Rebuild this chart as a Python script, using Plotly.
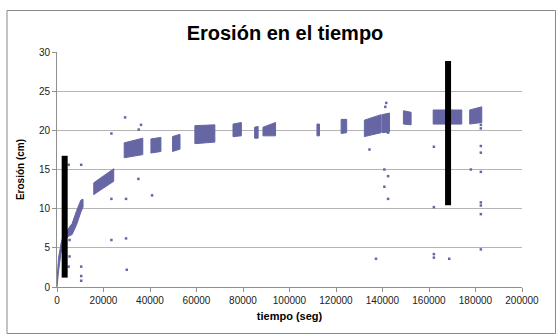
import plotly.graph_objects as go

# ---- data ----
# early rising band (0 - 11200 s)
band_x = [0, 300, 700, 1700, 2500, 4500, 6500, 8500, 10300, 11200]
band_hi = [1.0, 3.0, 3.8, 5.5, 6.4, 7.3, 8.1, 9.8, 11.1, 11.2]
band_lo = [0.0, 0.8, 2.1, 4.3, 5.4, 6.4, 6.7, 8.0, 9.6, 10.2]

# dense measurement clusters (trapezoids: x range, top / bottom at each end)
clu_x0 = [15800, 28900, 40400, 49700, 59300, 75700, 85000, 88600, 111800, 122200, 132200, 139800, 149000, 161800, 177500]
clu_x1 = [24400, 36900, 44700, 52900, 67900, 79300, 86500, 94000, 112900, 124600, 139400, 143000, 152300, 174100, 182700]
clu_top0 = [13.3, 18.4, 18.9, 19.2, 20.6, 20.8, 20.4, 20.4, 20.8, 21.4, 21.3, 22.0, 22.5, 22.6, 22.6]
clu_top1 = [15.1, 19.0, 19.1, 19.5, 20.7, 21.0, 20.5, 21.0, 20.8, 21.4, 22.0, 22.2, 22.3, 22.6, 23.0]
clu_bot0 = [11.8, 16.5, 17.1, 17.3, 18.3, 19.2, 19.0, 19.3, 19.3, 19.6, 19.2, 19.7, 20.8, 20.8, 20.8]
clu_bot1 = [13.5, 16.9, 17.3, 17.6, 18.5, 19.3, 19.0, 19.3, 19.3, 19.7, 19.7, 19.8, 20.7, 20.8, 21.0]

# isolated points
out_x = [5000, 10400, 5400, 5000, 10400, 10400, 10400, 5400, 23400, 23400, 23400,
         29300, 29700, 29700, 30000, 35150, 36150, 35000, 40900, 134400, 137200,
         140800, 142400, 140800, 142400, 142400, 162100, 162100, 162100, 162100,
         168700, 178000, 182300, 182300, 182300, 182300, 182300, 182300, 182300,
         182300, 182300, 141600, 141200]
out_y = [15.6, 15.6, 3.9, 2.6, 2.6, 1.4, 0.8, 6.0, 19.6, 11.25, 6.0,
         21.65, 11.25, 6.2, 2.2, 20.1, 20.7, 13.8, 11.7, 17.55, 3.6,
         15.0, 14.15, 12.8, 11.25, 19.7, 17.9, 10.2, 4.2, 3.75,
         3.6, 15.0, 20.7, 20.25, 18.0, 17.15, 14.7, 10.8, 10.4,
         9.3, 4.8, 23.5, 23.0]

# black vertical bars
bar_x = [3300, 168200]
bar_lo = [1.2, 10.45]
bar_hi = [16.75, 28.85]

x_ticks = [0, 20000, 40000, 60000, 80000, 100000, 120000, 140000, 160000, 180000, 200000]
y_ticks = [0, 5, 10, 15, 20, 25, 30]

# ---- figure ----
PT = "rgb(102,102,165)"
W, H = 558, 335
ml, mr, mt, mb = 57, 36, 52, 48

fig = go.Figure()

# band
fig.add_trace(go.Scatter(
    x=band_x + band_x[::-1], y=band_hi + band_lo[::-1],
    fill="toself", fillcolor=PT, mode="lines",
    line=dict(color=PT, width=1), hoverinfo="skip", showlegend=False))

for i in range(len(clu_x0)):
    fig.add_trace(go.Scatter(
        x=[clu_x0[i], clu_x1[i], clu_x1[i], clu_x0[i], clu_x0[i]],
        y=[clu_top0[i], clu_top1[i], clu_bot1[i], clu_bot0[i], clu_top0[i]],
        fill="toself", fillcolor=PT, mode="lines",
        line=dict(color=PT, width=1), hoverinfo="skip", showlegend=False))

fig.add_trace(go.Scatter(
    x=out_x, y=out_y, mode="markers",
    marker=dict(color=PT, size=2.5, symbol="square", line=dict(width=0)),
    showlegend=False))

for i in range(len(bar_x)):
    fig.add_trace(go.Scatter(
        x=[bar_x[i], bar_x[i]], y=[bar_lo[i], bar_hi[i]], mode="lines",
        line=dict(color="black", width=6), showlegend=False))

pw = W - ml - mr
ph = H - mt - mb
def px2paper_x(p):
    return (p - ml) / pw
def px2paper_y(p):
    return (H - mb - p) / ph

fig.add_shape(type="rect", xref="paper", yref="paper",
              x0=px2paper_x(7), x1=px2paper_x(555.5),
              y0=px2paper_y(333.5), y1=px2paper_y(10.5),
              line=dict(color="#888888", width=1), layer="below")

font_family = "Liberation Sans, Arial, sans-serif"
fig.update_layout(
    width=W, height=H,
    margin=dict(l=ml, r=mr, t=mt, b=mb),
    paper_bgcolor="white", plot_bgcolor="white",
    font=dict(family=font_family, size=10, color="#222222"),
    title=dict(text="<b>Erosión en el tiempo</b>", x=285 / W, xanchor="center",
               y=1 - 33 / H, yanchor="middle", font=dict(size=20, color="black")),
    xaxis=dict(range=[0, 200000], tickvals=x_ticks, tickformat="d",
               showgrid=False, zeroline=False, showline=True, linecolor="#909090",
               ticks="outside", ticklen=4, tickcolor="#909090",
               title=dict(text="<b>tiempo (seg)</b>", font=dict(size=11, color="black"), standoff=7),
               tickfont=dict(size=10, color="#222222")),
    yaxis=dict(range=[0, 30], tickvals=y_ticks,
               showgrid=True, gridcolor="#B4B4B4", gridwidth=1, zeroline=False,
               showline=True, linecolor="#909090",
               ticks="outside", ticklen=4, tickcolor="#909090",
               title=dict(text="<b>Erosión (cm)</b>", font=dict(size=10, color="black"), standoff=12),
               tickfont=dict(size=10, color="#222222")),
)

fig.write_html("out.html", post_script="document.body.style.margin='0';",
               config={"displayModeBar": False})
